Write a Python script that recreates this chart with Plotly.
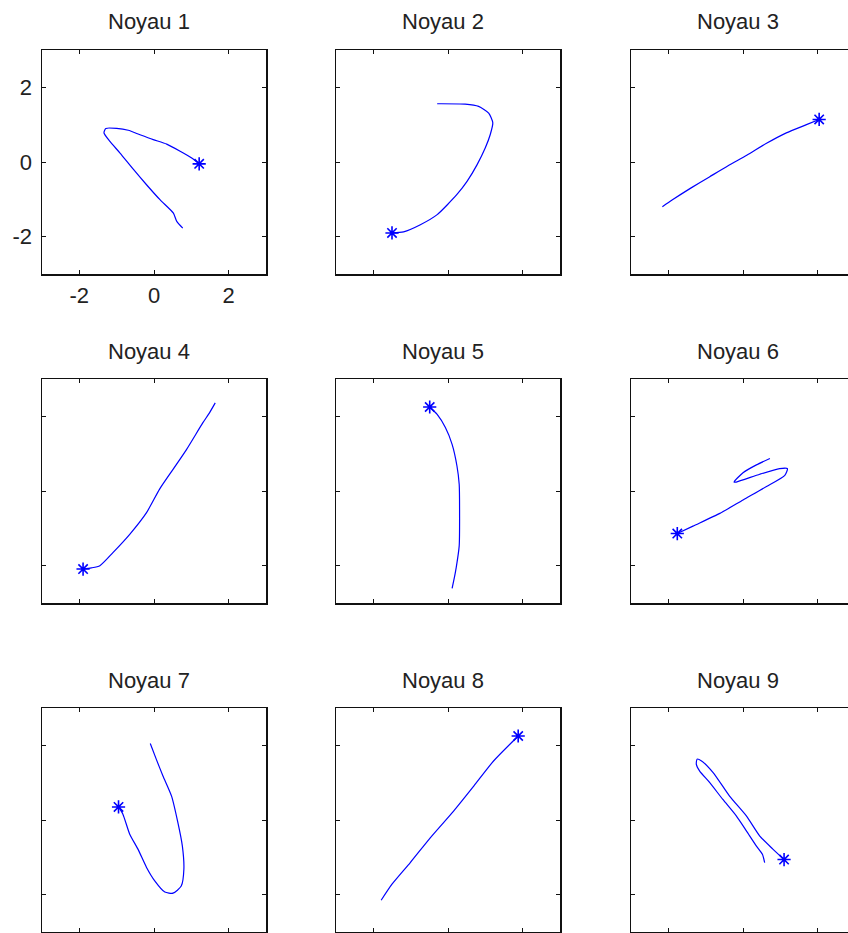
import plotly.graph_objects as go

# ---- data ----
titles = ["Noyau 1", "Noyau 2", "Noyau 3", "Noyau 4", "Noyau 5",
          "Noyau 6", "Noyau 7", "Noyau 8", "Noyau 9"]
tick_vals = [-2, 0, 2]
tick_text = ["-2", "0", "2"]

noyau1_x = [1.21, 1.01, 0.70, 0.34, -0.02, -0.375, -0.69, -1.00, -1.29, -1.34, -1.18, -0.91, -0.55, -0.20, 0.16, 0.52, 0.61, 0.77]
noyau1_y = [-0.05, 0.11, 0.29, 0.48, 0.60, 0.73, 0.85, 0.90, 0.90, 0.78, 0.55, 0.24, -0.20, -0.61, -1.01, -1.37, -1.59, -1.77]

noyau2_x = [-1.50, -1.19, -0.74, -0.29, 0.24, 0.51, 0.78, 1.00, 1.13, 1.20, 1.09, 0.82, 0.46, -0.29]
noyau2_y = [-1.90, -1.87, -1.68, -1.41, -0.87, -0.52, -0.07, 0.38, 0.73, 1.05, 1.31, 1.49, 1.55, 1.56]

noyau3_x = [2.04, 1.70, 1.16, 0.63, 0.10, -0.40, -0.90, -1.40, -1.90, -2.16]
noyau3_y = [1.14, 1.00, 0.78, 0.50, 0.18, -0.10, -0.40, -0.70, -1.02, -1.20]

noyau4_x = [-1.90, -1.68, -1.45, -1.10, -0.65, -0.20, 0.15, 0.51, 0.87, 1.31, 1.49, 1.64]
noyau4_y = [-2.09, -2.06, -2.00, -1.65, -1.16, -0.58, 0.05, 0.58, 1.11, 1.83, 2.10, 2.36]

noyau5_x = [-0.49, -0.29, -0.07, 0.11, 0.24, 0.30, 0.31, 0.30, 0.22, 0.17, 0.11]
noyau5_y = [2.25, 2.05, 1.70, 1.25, 0.67, 0.18, -0.49, -1.47, -2.05, -2.32, -2.61]

noyau6_x = [-1.76, -1.34, -0.62, 0.00, 0.63, 1.12, 1.19, 0.98, 0.45, -0.18, -0.24, 0.00, 0.36, 0.72]
noyau6_y = [-1.14, -0.94, -0.60, -0.24, 0.12, 0.42, 0.60, 0.60, 0.45, 0.24, 0.24, 0.49, 0.70, 0.87]

noyau7_x = [-0.95, -0.83, -0.65, -0.43, -0.20, 0.02, 0.29, 0.51, 0.73, 0.80, 0.76, 0.64, 0.47, 0.24, 0.06, -0.10]
noyau7_y = [0.35, 0.15, -0.38, -0.78, -1.27, -1.63, -1.93, -1.96, -1.77, -1.32, -0.70, -0.07, 0.64, 1.18, 1.63, 2.05]

noyau8_x = [1.88, 1.22, 0.69, 0.15, -0.47, -1.01, -1.50, -1.79]
noyau8_y = [2.25, 1.58, 0.91, 0.24, -0.47, -1.14, -1.72, -2.15]

noyau9_x = [1.10, 0.80, 0.45, 0.09, -0.36, -0.80, -1.11, -1.23, -1.25, -1.16, -0.89, -0.54, -0.18, 0.09, 0.36, 0.52, 0.58]
noyau9_y = [-1.06, -0.78, -0.43, 0.11, 0.64, 1.27, 1.58, 1.63, 1.49, 1.31, 1.00, 0.55, 0.11, -0.29, -0.70, -0.92, -1.14]

series_x = [noyau1_x, noyau2_x, noyau3_x, noyau4_x, noyau5_x, noyau6_x, noyau7_x, noyau8_x, noyau9_x]
series_y = [noyau1_y, noyau2_y, noyau3_y, noyau4_y, noyau5_y, noyau6_y, noyau7_y, noyau8_y, noyau9_y]

# ---- layout geometry (pixels) ----
W, H = 848, 933
col_left = [42, 336, 631]
row_top = [50, 379, 708]
box = 224
FONT = "Liberation Sans, Arial, sans-serif"

fig = go.Figure()
layout = dict(
    width=W, height=H, margin=dict(l=0, r=0, t=0, b=0),
    paper_bgcolor="white", plot_bgcolor="white", showlegend=False,
    font=dict(family=FONT, size=22, color="#222222"),
)
annotations = []

for i in range(9):
    r, c = divmod(i, 3)
    n = i + 1
    xa = "xaxis" if n == 1 else f"xaxis{n}"
    ya = "yaxis" if n == 1 else f"yaxis{n}"
    xref = "x" if n == 1 else f"x{n}"
    yref = "y" if n == 1 else f"y{n}"

    l = col_left[c]
    rgt = l + box
    xmax = 3.0
    if rgt > W:
        xmax = -3.0 + 6.0 * (W - l) / box
        rgt = W
    t = row_top[r]
    b = min(t + box, H - 1)

    first = (n == 1)
    layout[xa] = dict(
        domain=[l / W, rgt / W], range=[-3, xmax], anchor=yref,
        showgrid=False, zeroline=False, showline=True, linecolor="#111111",
        linewidth=1.5, mirror="ticks", ticks="inside", ticklen=4,
        tickwidth=1, tickcolor="#111111",
        tickvals=tick_vals, ticktext=tick_text, showticklabels=first,
        ticklabelstandoff=1, tickfont=dict(size=22, color="#222222"),
        fixedrange=True,
    )
    layout[ya] = dict(
        domain=[1 - b / H, 1 - t / H], range=[-3, 3], anchor=xref,
        showgrid=False, zeroline=False, showline=True, linecolor="#111111",
        linewidth=1.5, mirror=("ticks" if c < 2 else False), ticks="inside",
        ticklen=4, tickwidth=1, tickcolor="#111111",
        tickvals=tick_vals, ticktext=tick_text, showticklabels=first,
        ticklabelstandoff=4, tickfont=dict(size=22, color="#222222"),
        fixedrange=True,
    )

    xs, ys = series_x[i], series_y[i]
    fig.add_trace(go.Scatter(
        x=xs, y=ys, mode="lines", xaxis=xref, yaxis=yref,
        line=dict(color="#0000ff", width=1.2, shape="spline", smoothing=0.6),
        hoverinfo="skip",
    ))
    fig.add_trace(go.Scatter(
        x=[xs[0]], y=[ys[0]], mode="markers", xaxis=xref, yaxis=yref,
        marker=dict(symbol="asterisk-open", size=11, color="#0000ff",
                    line=dict(color="#0000ff", width=1.6)),
        hoverinfo="skip",
    ))

    annotations.append(dict(
        text=titles[i], xref="paper", yref="paper",
        x=(l + box / 2) / W, y=1 - (t - 28) / H, xshift=-5,
        xanchor="center", yanchor="middle", showarrow=False,
        font=dict(family=FONT, size=22, color="#222222"),
    ))

layout["annotations"] = annotations
fig.update_layout(**layout)

fig.write_html(
    "out.html",
    config={"displayModeBar": False, "staticPlot": True},
    post_script="document.body.style.margin='0';document.body.style.overflow='hidden';",
)
